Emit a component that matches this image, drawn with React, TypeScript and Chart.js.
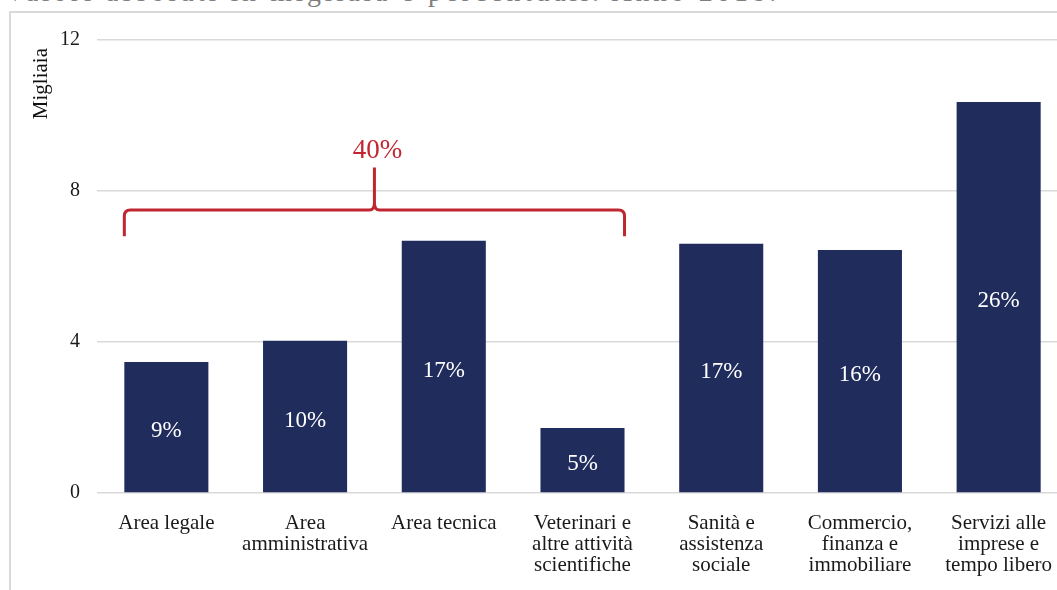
import React, { useEffect, useRef } from "react";
import { Chart, registerables } from "chart.js";

Chart.register(...registerables);

const categories: string[][] = [
  ["Area legale"],
  ["Area", "amministrativa"],
  ["Area tecnica"],
  ["Veterinari e", "altre attività", "scientifiche"],
  ["Sanità e", "assistenza", "sociale"],
  ["Commercio,", "finanza e", "immobiliare"],
  ["Servizi alle", "imprese e", "tempo libero"],
];
const values = [3.47, 4.03, 6.68, 1.72, 6.6, 6.44, 10.36];
const percentLabels = ["9%", "10%", "17%", "5%", "17%", "16%", "26%"];
const yTickValues = [0, 4, 8, 12];
const yAxisTitle = "Migliaia";
const groupLabel = "40%";
const groupFirst = 0;
const groupLast = 3;
const titleText = "Valori assoluti in migliaia e percentuali. Anno 2018.";

const SERIF = "'Liberation Serif', 'Times New Roman', serif";
const BAR_COLOR = "#1f2c5c";
const RED = "#bf2630";

const overlayPlugin = {
  id: "overlay",
  afterDatasetsDraw(chart: any) {
    const { ctx, scales } = chart;
    const meta = chart.getDatasetMeta(0);
    const ys = scales.y;
    ctx.save();
    // percent labels in bars
    ctx.fillStyle = "#ffffff";
    ctx.font = `23px ${SERIF}`;
    ctx.textAlign = "center";
    ctx.textBaseline = "middle";
    meta.data.forEach((el: any, i: number) => {
      const mid = (el.y + el.base) / 2;
      ctx.fillText(percentLabels[i], el.x, mid + 4);
    });
    // brace
    const a = meta.data[groupFirst];
    const b = meta.data[groupLast];
    const x0 = a.x - a.width / 2;
    const x1 = b.x + b.width / 2;
    const xm = (x0 + x1) / 2;
    const yLevel = ys.getPixelForValue(7.5);
    const yFoot = ys.getPixelForValue(6.8);
    const yTip = ys.getPixelForValue(8.62);
    const r = 6;
    ctx.strokeStyle = RED;
    ctx.lineWidth = 3;
    ctx.lineJoin = "round";
    ctx.beginPath();
    ctx.moveTo(x0, yFoot);
    ctx.lineTo(x0, yLevel + r);
    ctx.quadraticCurveTo(x0, yLevel, x0 + r, yLevel);
    ctx.lineTo(xm - 5, yLevel);
    ctx.quadraticCurveTo(xm, yLevel, xm, yLevel - 7);
    ctx.lineTo(xm, yTip);
    ctx.moveTo(xm, yLevel - 7);
    ctx.quadraticCurveTo(xm, yLevel, xm + 5, yLevel);
    ctx.lineTo(x1 - r, yLevel);
    ctx.quadraticCurveTo(x1, yLevel, x1, yLevel + r);
    ctx.lineTo(x1, yFoot);
    ctx.stroke();
    ctx.fillStyle = RED;
    ctx.font = `27px ${SERIF}`;
    ctx.textBaseline = "middle";
    ctx.fillText(groupLabel, xm + 3, ys.getPixelForValue(9.05));
    // y axis title
    ctx.save();
    ctx.translate(41, ys.top + 8);
    ctx.rotate(-Math.PI / 2);
    ctx.textAlign = "right";
    ctx.textBaseline = "middle";
    ctx.fillStyle = "#111111";
    ctx.font = `21px ${SERIF}`;
    ctx.fillText(yAxisTitle, 0, 0);
    ctx.restore();
    ctx.restore();
  },
};

export default function App() {
  const ref = useRef<HTMLCanvasElement | null>(null);
  useEffect(() => {
    if (!ref.current) return;
    const chart = new Chart(ref.current, {
      type: "bar",
      data: {
        labels: categories,
        datasets: [
          {
            data: values,
            backgroundColor: BAR_COLOR,
            borderWidth: 0,
            categoryPercentage: 1,
            barPercentage: 0.606,
          },
        ],
      },
      options: {
        animation: false,
        responsive: false,
        devicePixelRatio: 1,
        layout: { padding: { top: 40, left: 0, right: 0, bottom: 0 } },
        plugins: {
          legend: { display: false },
          tooltip: { enabled: false },
          title: { display: false },
        },
        scales: {
          x: {
            grid: { display: false },
            border: { display: false },
            ticks: {
              color: "#1a1a1a",
              font: { family: SERIF, size: 21, lineHeight: 1.0 },
              padding: 12,
              maxRotation: 0,
              autoSkip: false,
            },
            afterFit(scale: any) {
              scale.height = 97;
            },
          },
          y: {
            min: 0,
            max: 12,
            afterBuildTicks(scale: any) {
              scale.ticks = yTickValues.map((v) => ({ value: v }));
            },
            grid: { color: "#d9d9d9", lineWidth: 1.5, drawTicks: false },
            border: { display: false },
            ticks: {
              color: "#1a1a1a",
              font: { family: SERIF, size: 20 },
              padding: 17,
            },
            afterFit(scale: any) {
              scale.width = 97;
            },
          },
        },
      },
      plugins: [overlayPlugin],
    });
    return () => chart.destroy();
  }, []);

  return (
    <div
      style={{
        position: "fixed",
        left: 0,
        top: 0,
        width: 1057,
        height: 590,
        overflow: "hidden",
        background: "#ffffff",
      }}
    >
      <div
        style={{
          position: "absolute",
          left: 5,
          top: -22,
          fontFamily: SERIF,
          fontSize: 28,
          lineHeight: "28px",
          letterSpacing: "3.6px",
          color: "#7f7f7f",
          whiteSpace: "nowrap",
        }}
      >
        {titleText}
      </div>
      <div
        style={{
          position: "absolute",
          left: 9,
          top: 11,
          width: 1200,
          height: 800,
          borderLeft: "2px solid #d9d9d9",
          borderTop: "2px solid #d9d9d9",
        }}
      />
      <canvas
        ref={ref}
        width={1068}
        height={590}
        style={{ position: "absolute", left: 0, top: 0, width: 1068, height: 590 }}
      />
    </div>
  );
}
